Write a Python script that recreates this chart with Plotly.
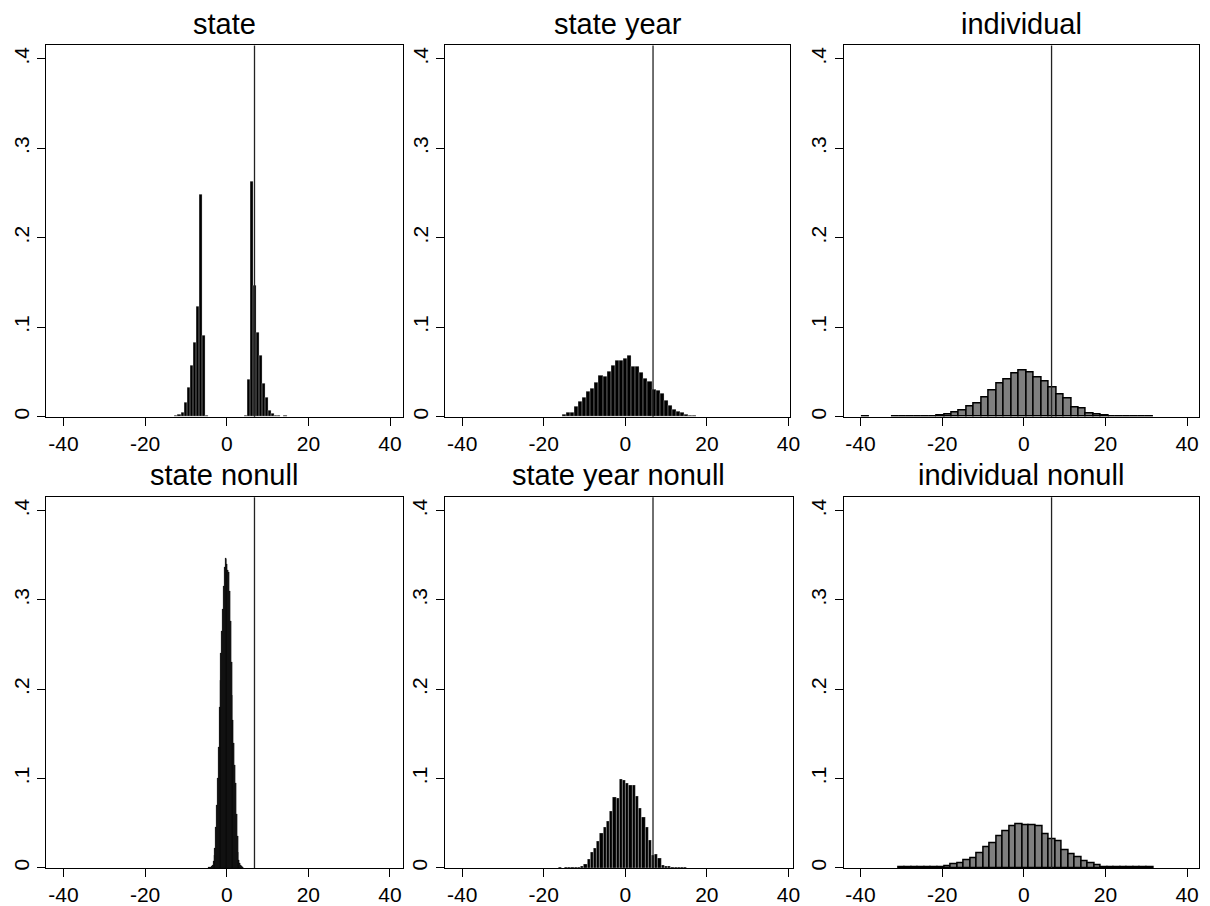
import plotly.graph_objects as go

# ---------------- data ----------------
panel_titles = ["state", "state year", "individual",
                "state nonull", "state year nonull", "individual nonull"]

# histogram bins: first bin left edge, bin width, densities
state_start, state_width = -14.22, 0.742
state_density = [0.0008, 0.0008, 0.0012, 0.0026, 0.0045, 0.0156, 0.033, 0.057,
                 0.083, 0.123, 0.249, 0.091, 0.0012,
                 0, 0, 0, 0, 0, 0, 0, 0, 0, 0, 0, 0,
                 0.0012, 0.042, 0.2625, 0.147, 0.0945, 0.069, 0.0367, 0.021,
                 0.0067, 0.0033, 0.0015, 0.001, 0.0005, 0.001]

sy_start, sy_width = -21.5, 1.0
sy_density = [0.0006, 0, 0.0006, 0.0006, 0.0006, 0.0008,
              0.002, 0.005, 0.005, 0.011, 0.0174, 0.022, 0.0285, 0.032, 0.038,
              0.046, 0.045, 0.051, 0.0575, 0.0634, 0.0627, 0.065, 0.0686,
              0.0567, 0.056, 0.0493, 0.043, 0.039, 0.031, 0.029, 0.026,
              0.0185, 0.0126, 0.0078, 0.0063, 0.0045, 0.0026,
              0.0015, 0.001, 0.0008]

ind_start, ind_width = -39.63, 1.83
ind_density = [0.0005, 0, 0, 0, 0.0005, 0.0005, 0.0005, 0.0005, 0.0005, 0.0005, 0.001,
               0.0026, 0.0052, 0.0074, 0.0115, 0.0152, 0.0215, 0.0293, 0.0371,
               0.0419, 0.0482, 0.0515, 0.0493, 0.0437, 0.0397, 0.033, 0.0252,
               0.02, 0.0108, 0.0093, 0.0041, 0.0022, 0.0011,
               0.0005, 0.0005, 0.0005, 0.0005, 0.0005, 0.0005]

sn_start, sn_width = -4.4, 0.21
sn_density = [0.0004, 0.0004, 0.001, 0.002, 0.003, 0.008, 0.014, 0.022, 0.045, 0.07,
              0.10, 0.135, 0.18, 0.21, 0.24, 0.265, 0.29, 0.315, 0.337, 0.347,
              0.346, 0.34, 0.333, 0.331, 0.31, 0.276, 0.23, 0.193, 0.165, 0.14,
              0.115, 0.095, 0.06, 0.035, 0.018, 0.009, 0.005, 0.003, 0.0015, 0.0008]

syn_start, syn_width = -16.47, 0.79
syn_density = [0.0006, 0, 0.0006, 0.0006, 0.0006, 0.0008,
               0.001, 0.0022, 0.0045, 0.0093, 0.017, 0.022, 0.030, 0.039, 0.0456,
               0.0527, 0.0638, 0.0793, 0.0775, 0.0994, 0.0979, 0.0949, 0.0927,
               0.092, 0.0797, 0.0671, 0.0571, 0.0456, 0.0308, 0.0141, 0.0148,
               0.0104, 0.003, 0.0022, 0.0015,
               0.0008, 0.0006, 0.0006, 0.0006, 0.0006]

indn_start, indn_width = -30.7, 1.6
indn_density = [0.0005, 0.0005, 0.0005, 0.0005, 0.0005, 0.0005,
                0.0008, 0.002, 0.0037, 0.0048, 0.0085, 0.0104, 0.0163, 0.023,
                0.0278, 0.0349, 0.0412, 0.0463, 0.0486, 0.0478, 0.0475, 0.0463,
                0.0382, 0.0323, 0.0297, 0.02, 0.0152, 0.0119, 0.0074, 0.0052,
                0.0026, 0.0011,
                0.0005, 0.0005, 0.0005, 0.0005, 0.0005, 0.0005, 0.0005]

true_effect = 6.8
x_ticks = [-40, -20, 0, 20, 40]
x_tick_labels = ["-40", "-20", "0", "20", "40"]
y_ticks = [0, 0.1, 0.2, 0.3, 0.4]
y_tick_labels = ["0", ".1", ".2", ".3", ".4"]

# ---------------- layout geometry (pixels of the 1210x906 page) ----------------
W, H = 1210, 906
panels = [
    dict(start=state_start, width=state_width, dens=state_density, style="dark",
         px=(46.7, 406.7), py=(45.7, 419.0), xr=(-44.2, 43.26)),
    dict(start=sy_start, width=sy_width, dens=sy_density, style="dark",
         px=(449.0, 796.7), py=(45.7, 419.0), xr=(-44.13, 40.41)),
    dict(start=ind_start, width=ind_width, dens=ind_density, style="gray",
         px=(850.7, 1208.5), py=(45.7, 419.0), xr=(-44.13, 42.8)),
    dict(start=sn_start, width=sn_width, dens=sn_density, style="solid",
         px=(46.7, 406.0), py=(500.0, 872.7), xr=(-44.2, 43.1)),
    dict(start=syn_start, width=syn_width, dens=syn_density, style="dark",
         px=(448.3, 799.3), py=(500.0, 872.7), xr=(-44.3, 41.05)),
    dict(start=indn_start, width=indn_width, dens=indn_density, style="gray",
         px=(850.7, 1208.5), py=(500.0, 872.7), xr=(-44.13, 42.8)),
]

FONT = "Liberation Sans, Arial, Helvetica, sans-serif"
fig = go.Figure()
layout = dict(
    width=W, height=H, margin=dict(l=0, r=0, t=0, b=0),
    paper_bgcolor="white", plot_bgcolor="white", showlegend=False,
    bargap=0, font=dict(family=FONT, color="black"),
)
shapes, annotations = [], []

for i, p in enumerate(panels, start=1):
    xs = "" if i == 1 else str(i)
    centers, heights = [], []
    for k, d in enumerate(p["dens"]):
        if d > 0:  # empty bins are not drawn
            centers.append(p["start"] + p["width"] * (k + 0.5))
            heights.append(d)
    if p["style"] == "gray":
        marker = dict(color="#7f7f7f", line=dict(color="black", width=1.5))
    elif p["style"] == "dark":
        marker = dict(color="black", line=dict(color="rgba(255,255,255,0.55)", width=0.5))
    else:
        marker = dict(color="black", line=dict(color="black", width=0.3))
    fig.add_trace(go.Bar(x=centers, y=heights, width=[p["width"]] * len(centers),
                         marker=marker, xaxis="x" + xs, yaxis="y" + xs,
                         hoverinfo="skip"))
    x0, x1 = p["px"]
    y0, y1 = p["py"]
    layout["xaxis" + xs] = dict(
        domain=[x0 / W, x1 / W], range=list(p["xr"]), anchor="y" + xs,
        tickvals=x_ticks, ticktext=x_tick_labels,
        ticks="outside", ticklen=8, tickwidth=1, tickcolor="black",
        showline=True, mirror=True, linecolor="black", linewidth=1,
        showgrid=False, zeroline=False, tickfont=dict(size=21, family=FONT, color="black"),
        fixedrange=True,
    )
    layout["yaxis" + xs] = dict(
        domain=[1 - y1 / H, 1 - y0 / H], range=[0, 0.415], anchor="x" + xs,
        tickvals=y_ticks, ticktext=y_tick_labels, tickangle=-90,
        ticks="outside", ticklen=8, tickwidth=1, tickcolor="black",
        showline=True, mirror=True, linecolor="black", linewidth=1,
        showgrid=False, zeroline=False, tickfont=dict(size=21, family=FONT, color="black"),
        fixedrange=True,
    )
    shapes.append(dict(type="line", xref="x" + xs, yref="y" + xs + " domain",
                       x0=true_effect, x1=true_effect, y0=0, y1=1,
                       line=dict(color="#222222", width=1.3)))
    annotations.append(dict(text=panel_titles[i - 1], xref="paper", yref="paper",
                            x=(x0 + x1) / 2 / W, y=1 - (y0 - 22) / H,
                            xanchor="center", yanchor="middle", showarrow=False,
                            font=dict(size=29, family=FONT, color="black")))

layout["shapes"] = shapes
layout["annotations"] = annotations
fig.update_layout(**layout)
fig.write_html("out.html", config={"displayModeBar": False},
               post_script="document.body.style.margin='0px';document.body.style.overflow='hidden';")
